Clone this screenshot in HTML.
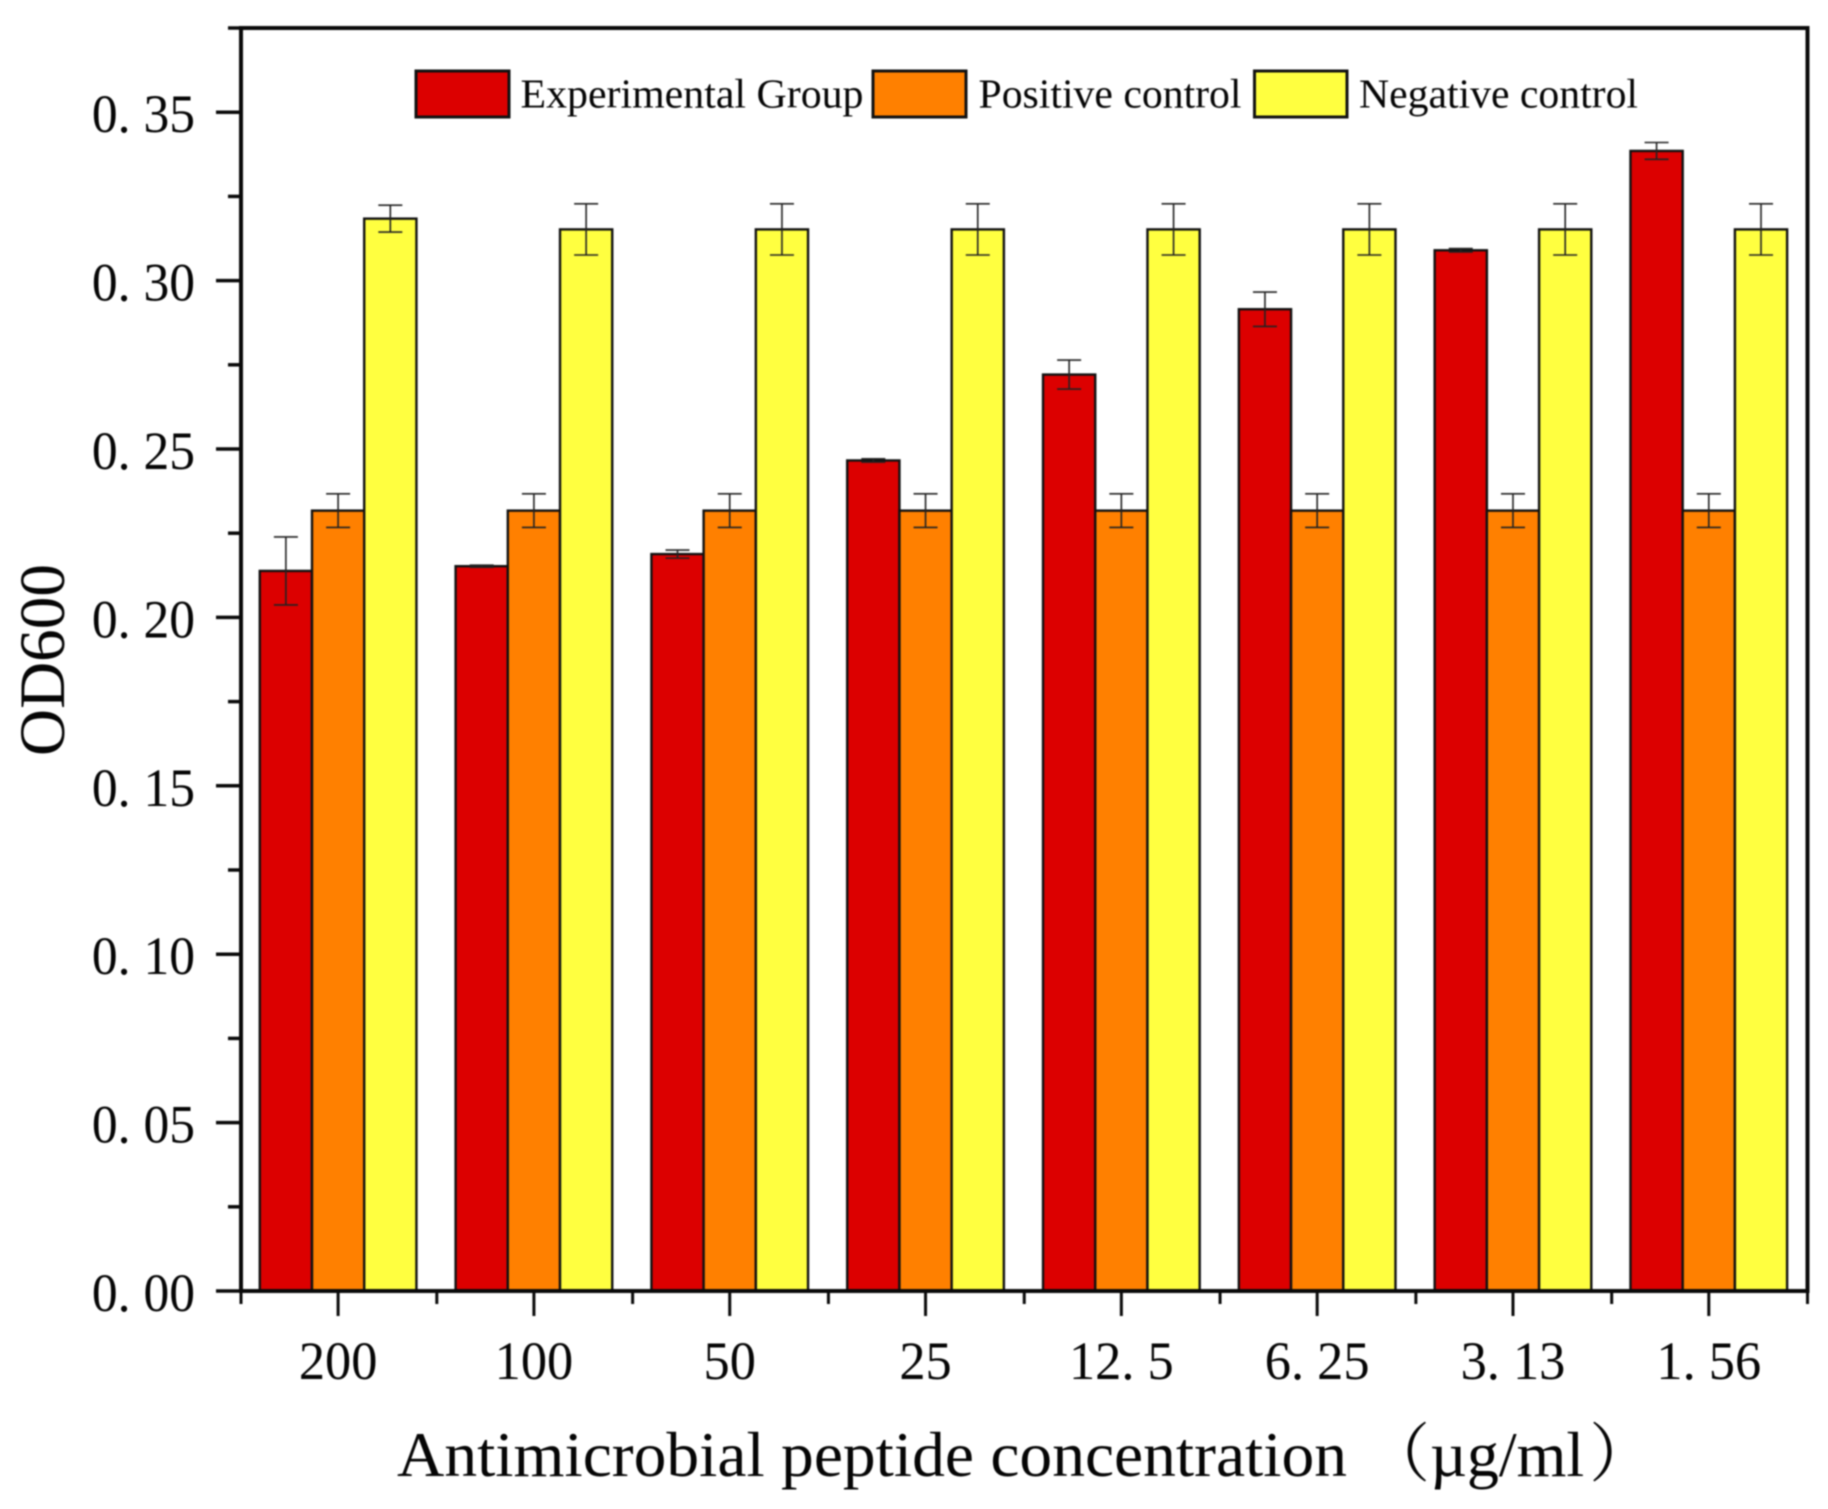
<!DOCTYPE html>
<html lang="en">
<head>
<meta charset="utf-8">
<title>OD600 vs antimicrobial peptide concentration</title>
<style>
html,body{margin:0;padding:0;background:#fff;width:1828px;height:1509px;overflow:hidden}
svg{display:block;filter:blur(0.8px)}
text{font-family:"Liberation Serif","Noto Serif CJK SC",serif;fill:#050505}
</style>
</head>
<body>
<svg id="chart" xmlns="http://www.w3.org/2000/svg" width="1828" height="1509" viewBox="0 0 1828 1509">
  <rect x="0" y="0" width="1828" height="1509" fill="#ffffff"/>
  <g id="bars"></g>
  <g id="errors"></g>
  <rect x="241" y="28" width="1566.5" height="1263" fill="none" stroke="#0a0a0a" stroke-width="4"/>
  <g id="axes"></g>

  <g>
    <g>
      <rect x="416" y="71" width="93" height="46" fill="#dc0000" stroke="#111" stroke-width="3"/>
      <text x="520.5" y="107.5" font-size="41" textLength="343" lengthAdjust="spacingAndGlyphs">Experimental Group</text>
    </g>
    <g>
      <rect x="873" y="71" width="93" height="46" fill="#ff8000" stroke="#111" stroke-width="3"/>
      <text x="978.5" y="107.5" font-size="41" textLength="263" lengthAdjust="spacingAndGlyphs">Positive control</text>
    </g>
    <g>
      <rect x="1254.5" y="71" width="92.5" height="46" fill="#ffff40" stroke="#111" stroke-width="3"/>
      <text x="1359" y="107.5" font-size="41" textLength="279" lengthAdjust="spacingAndGlyphs">Negative control</text>
    </g>
  </g>

  <text transform="translate(64,756) rotate(-90)" font-size="65" textLength="192" lengthAdjust="spacingAndGlyphs">OD600</text>
  <text x="397" y="1476" font-size="64" textLength="950" lengthAdjust="spacingAndGlyphs">Antimicrobial peptide concentration</text>
  <text x="1366" y="1476" font-size="64">（µg/ml<tspan dx="5">）</tspan></text>
</svg>

<script>
const categories = ['200', '100', '50', '25', '12. 5', '6. 25', '3. 13', '1. 56'];
const seriesNames = ['experimental-group', 'positive-control', 'negative-control'];
const seriesColors = ['#dc0000', '#ff8000', '#ffff40'];
const experimentalValues = [0.2138, 0.2152, 0.2188, 0.2466, 0.2721, 0.2915, 0.3090, 0.3385];
const positiveValues = [0.2317, 0.2317, 0.2317, 0.2317, 0.2317, 0.2317, 0.2317, 0.2317];
const negativeValues = [0.3184, 0.3152, 0.3152, 0.3152, 0.3152, 0.3152, 0.3152, 0.3152];
const experimentalErrors = [0.0101, 0.0003, 0.0012, 0.0005, 0.0043, 0.0051, 0.0005, 0.0025];
const positiveErrors = [0.0050, 0.0050, 0.0050, 0.0050, 0.0050, 0.0050, 0.0050, 0.0050];
const negativeErrors = [0.0040, 0.0076, 0.0076, 0.0076, 0.0076, 0.0076, 0.0076, 0.0076];
const yTickValues = [0, 0.05, 0.10, 0.15, 0.20, 0.25, 0.30, 0.35];
const yTickLabels = ['0. 00', '0. 05', '0. 10', '0. 15', '0. 20', '0. 25', '0. 30', '0. 35'];
const yMinorTickValues = [0.025, 0.075, 0.125, 0.175, 0.225, 0.275, 0.325, 0.375];

const seriesValues = [experimentalValues, positiveValues, negativeValues];
const seriesErrors = [experimentalErrors, positiveErrors, negativeErrors];

const NS = 'http://www.w3.org/2000/svg';
const plotLeft = 241, plotRight = 1807.5, plotTop = 28, plotBottom = 1291;
const yMax = 0.375;
const bandWidth = (plotRight - plotLeft) / categories.length;
const barWidth = bandWidth * 0.8 / seriesNames.length;

function yScale(v) { return plotBottom - (v / yMax) * (plotBottom - plotTop); }
function xCenter(i) { return plotLeft + bandWidth * (i + 0.5) - 0.8; }
function xEdge(i) { return plotLeft + bandWidth * i; }
function barLeft(i, s) { return xCenter(i) - 1.5 * barWidth + s * barWidth; }

function make(tag, parent, props) {
  const el = document.createElementNS(NS, tag);
  for (const k in props) el.setAttribute(k, props[k]);
  parent.appendChild(el);
  return el;
}

const barsLayer = document.getElementById('bars');
const errorsLayer = document.getElementById('errors');
const axesLayer = document.getElementById('axes');

categories.forEach(function (cat, i) {
  seriesNames.forEach(function (name, s) {
    const v = seriesValues[s][i];
    const e = seriesErrors[s][i];
    const x = barLeft(i, s);
    const bar = make('rect', barsLayer, {
      x: x, y: yScale(v), width: barWidth, height: plotBottom - yScale(v),
      fill: seriesColors[s], stroke: '#111', 'stroke-width': 2.4
    });
    
    

    const cx = x + barWidth / 2;
    const err = make('path', errorsLayer, {
      d: 'M' + cx + ' ' + yScale(v + e) + 'V' + yScale(v - e) +
         'M' + (cx - 12) + ' ' + yScale(v + e) + 'H' + (cx + 12) +
         'M' + (cx - 12) + ' ' + yScale(v - e) + 'H' + (cx + 12),
      fill: 'none', stroke: '#222', 'stroke-width': 1.6
    });
    
    
  });

  const tick = make('line', axesLayer, {
    x1: xCenter(i), x2: xCenter(i), y1: plotBottom, y2: plotBottom + 25,
    stroke: '#0a0a0a', 'stroke-width': 3
  });
  
  

  const label = make('text', axesLayer, {
    transform: 'translate(' + xCenter(i) + ',1379) scale(0.97,1)',
    'font-size': 54, 'text-anchor': 'middle'
  });
  label.textContent = cat;
  
  
});

for (let i = 0; i <= categories.length; i++) {
  const minor = make('line', axesLayer, {
    x1: xEdge(i), x2: xEdge(i), y1: plotBottom, y2: plotBottom + 13,
    stroke: '#0a0a0a', 'stroke-width': 3
  });
  
  
}

yTickValues.forEach(function (v, i) {
  const tick = make('line', axesLayer, {
    x1: plotLeft - 25, x2: plotLeft, y1: yScale(v), y2: yScale(v),
    stroke: '#0a0a0a', 'stroke-width': 3.5
  });
  
  

  const label = make('text', axesLayer, {
    transform: 'translate(195,' + (yScale(v) + 20) + ') scale(0.955,1)',
    'font-size': 54, 'text-anchor': 'end'
  });
  label.textContent = yTickLabels[i];
  
  
});

yMinorTickValues.forEach(function (v, i) {
  const minor = make('line', axesLayer, {
    x1: plotLeft - 13, x2: plotLeft, y1: yScale(v), y2: yScale(v),
    stroke: '#0a0a0a', 'stroke-width': 3.5
  });
  
  
});
</script>
</body>
</html>
